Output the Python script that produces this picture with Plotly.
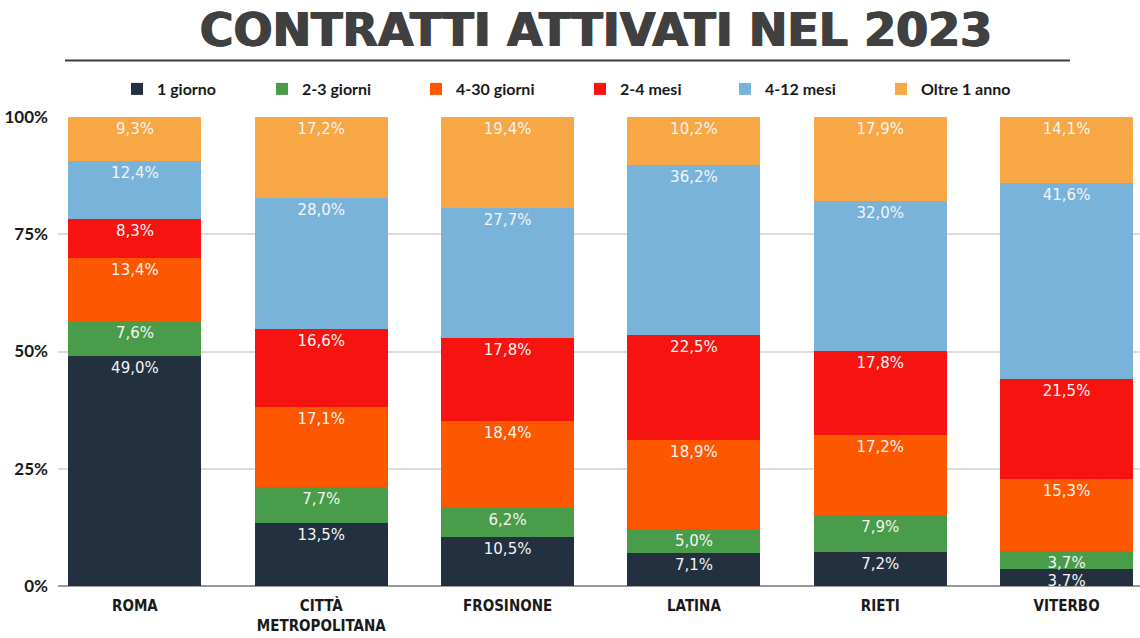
import plotly.graph_objects as go

WIDTH = 1140
HEIGHT = 638

TITLE = "CONTRATTI ATTIVATI NEL 2023"

CATEGORIES = ["ROMA", "CITTÀ<br>METROPOLITANA", "FROSINONE", "LATINA", "RIETI", "VITERBO"]

SERIES_NAMES = ["1 giorno", "2-3 giorni", "4-30 giorni", "2-4 mesi", "4-12 mesi", "Oltre 1 anno"]

ONE_DAY = [49.0, 13.5, 10.5, 7.1, 7.2, 3.7]
TWO_THREE_DAYS = [7.6, 7.7, 6.2, 5.0, 7.9, 3.7]
FOUR_THIRTY_DAYS = [13.4, 17.1, 18.4, 18.9, 17.2, 15.3]
TWO_FOUR_MONTHS = [8.3, 16.6, 17.8, 22.5, 17.8, 21.5]
FOUR_TWELVE_MONTHS = [12.4, 28.0, 27.7, 36.2, 32.0, 41.6]
OVER_ONE_YEAR = [9.3, 17.2, 19.4, 10.2, 17.9, 14.1]

Y_TICKS = [0, 25, 50, 75, 100]
Y_TICK_LABELS = ["0%", "25%", "50%", "75%", "100%"]

COLORS = ["#23303f", "#499c4a", "#fd5700", "#f71310", "#79b3d9", "#f7a745"]

# left edge (pixels) of each legend entry, one legend per series
LEGEND_X = [117, 262, 416, 580, 725, 881]

LABEL_FONT = "Lato, 'Noto Sans', sans-serif"
VALUE_FONT = "'DejaVu Sans', sans-serif"
CONDENSED_FONT = "'Liberation Sans Narrow', 'DejaVu Sans Condensed', sans-serif"
TITLE_FONT = "'DejaVu Sans', sans-serif"
TITLE_COLOR = "#404040"

# plot area in pixels
LEFT = 58
BOTTOM = 52
TOP = 114


def format_percent(value):
    return "{0:.1f}%".format(value).replace(".", ",")


def create_figure():
    series = [ONE_DAY, TWO_THREE_DAYS, FOUR_THIRTY_DAYS, TWO_FOUR_MONTHS, FOUR_TWELVE_MONTHS, OVER_ONE_YEAR]

    figure = go.Figure()

    for i, (name, values, color) in enumerate(zip(SERIES_NAMES, series, COLORS)):
        figure.add_trace(
            go.Bar(
                x=CATEGORIES,
                y=values,
                name=name,
                legend="legend" if i == 0 else "legend{0}".format(i + 1),
                marker=dict(color=color, line=dict(width=0)),
                text=[format_percent(v) for v in values],
                textposition="inside",
                insidetextanchor="end",
                textangle=0,
                textfont=dict(family=VALUE_FONT, size=15, color="#f4f4f4"),
            )
        )

    plot_width = WIDTH - LEFT
    plot_height = HEIGHT - TOP - BOTTOM

    legends = {}
    for i, x in enumerate(LEGEND_X):
        key = "legend" if i == 0 else "legend{0}".format(i + 1)
        legends[key] = dict(
            orientation="h",
            xref="container",
            yref="container",
            x=x / WIDTH,
            xanchor="left",
            y=1 - 89 / HEIGHT,
            yanchor="middle",
            bgcolor="rgba(0,0,0,0)",
            font=dict(family=LABEL_FONT, size=16, weight="bold", color="#1a1a1a"),
        )

    figure.update_layout(
        width=WIDTH,
        height=HEIGHT,
        barmode="stack",
        barnorm="percent",
        bargap=0.286,
        plot_bgcolor="white",
        paper_bgcolor="white",
        margin=dict(l=LEFT, r=0, t=TOP, b=BOTTOM),
        uniformtext=dict(minsize=15, mode="show"),
        title=dict(
            text=TITLE,
            x=596 / WIDTH,
            xanchor="center",
            y=1 - 30 / HEIGHT,
            yanchor="middle",
            font=dict(
                family=TITLE_FONT,
                size=46,
                weight="bold",
                color=TITLE_COLOR,
                shadow="0.8px 0px 0px {0}, -0.8px 0px 0px {0}".format(TITLE_COLOR),
            ),
        ),
        showlegend=True,
        **legends,
    )

    figure.update_xaxes(
        range=[-0.413, 5.394],
        showgrid=False,
        showline=False,
        ticks="",
        tickfont=dict(family=CONDENSED_FONT, size=15, weight="bold", color="#1a1a1a"),
        ticklabelstandoff=9,
    )
    figure.update_yaxes(
        range=[0, 100],
        tickvals=Y_TICKS,
        ticktext=Y_TICK_LABELS,
        showgrid=True,
        gridcolor="#dddddd",
        gridwidth=1.5,
        zeroline=True,
        zerolinecolor="#9a9a9a",
        zerolinewidth=2,
        ticks="",
        ticklabelstandoff=9,
        tickfont=dict(family=LABEL_FONT, size=17, weight="bold", color="#1a1a1a"),
    )

    # rule under the title
    line_y = (HEIGHT - BOTTOM - 57) / plot_height
    figure.add_shape(
        type="line",
        xref="paper",
        yref="paper",
        x0=(65 - LEFT) / plot_width,
        x1=(1070 - LEFT) / plot_width,
        y0=line_y,
        y1=line_y,
        line=dict(color="#3c3c3c", width=2),
    )
    return figure


if __name__ == "__main__":
    fig = create_figure()
    # drop the default page margin so the figure sits at the window corner
    fig.write_html(
        "out.html",
        config={"displayModeBar": False},
        post_script="document.body.style.margin = '0';",
    )
